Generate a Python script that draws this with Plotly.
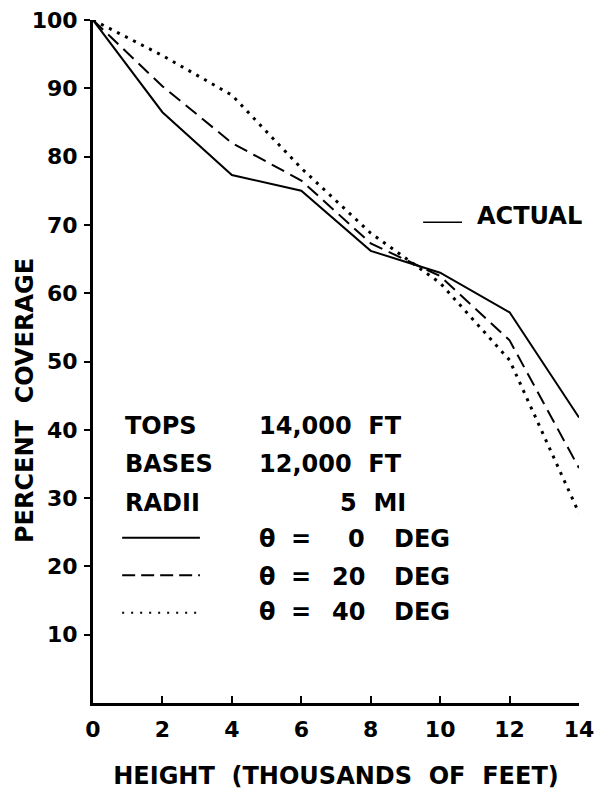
import plotly.graph_objects as go

# Height above ground, thousands of feet
height_kft = [0, 2, 4, 6, 8, 10, 12, 14]

# Percent coverage for three cloud orientations
cov_0deg = [100, 86.5, 77.3, 75.0, 66.2, 63.0, 57.2, 41.8]
cov_20deg = [100, 90.3, 82.0, 76.5, 67.3, 62.5, 53.1, 34.4]
cov_40deg = [100, 94.8, 89.0, 78.3, 68.8, 61.5, 50.2, 27.8]

x_ticks = [0, 2, 4, 6, 8, 10, 12, 14]
y_ticks = [10, 20, 30, 40, 50, 60, 70, 80, 90, 100]

FONT = "DejaVu Sans"
INK = "black"

# Figure and plot-area geometry (pixels)
W, H = 599, 790
ML, MR, MT, MB = 93, 20, 20, 87
PLOT_W, PLOT_H = W - ML - MR, H - MT - MB

fig = go.Figure()

fig.add_trace(go.Scatter(x=height_kft, y=cov_0deg, mode="lines",
                         line=dict(color=INK, width=2), showlegend=False))
fig.add_trace(go.Scatter(x=height_kft, y=cov_20deg, mode="lines",
                         line=dict(color=INK, width=2, dash="14px,7px"), showlegend=False))
fig.add_trace(go.Scatter(x=height_kft, y=cov_40deg, mode="lines",
                         line=dict(color=INK, width=3, dash="3px,6px"), showlegend=False))

ann_font = dict(family=FONT, size=24, color=INK, weight="bold")

def text(x, y, s, anchor="left"):
    fig.add_annotation(x=x, y=y, xref="x", yref="y", text=s, showarrow=False,
                       xanchor=anchor, yanchor="middle", font=ann_font)

# Parameter block
text(0.86, 40.6, "TOPS")
text(4.73, 40.6, "14,000  FT")
text(0.86, 35.0, "BASES")
text(4.73, 35.0, "12,000  FT")
text(0.86, 29.3, "RADII")
text(8.07, 29.3, "5  MI", anchor="center")

# Orientation key: symbol, equals sign, angle, unit
key_rows = [(24.0, "0"), (18.4, "20"), (13.3, "40")]
for yv, ang in key_rows:
    text(4.73, yv, "θ")
    text(5.99, yv, "=", anchor="center")
    text(7.90, yv, ang, anchor="right")
    text(8.62, yv, "DEG")

# Line-style key samples
fig.add_shape(type="line", x0=0.84, x1=3.08, y0=24.2, y1=24.2, xref="x", yref="y",
              line=dict(color=INK, width=2))
fig.add_shape(type="line", x0=0.84, x1=3.08, y0=18.7, y1=18.7, xref="x", yref="y",
              line=dict(color=INK, width=2, dash="13px,6px"))
fig.add_shape(type="line", x0=0.84, x1=3.08, y0=13.2, y1=13.2, xref="x", yref="y",
              line=dict(color=INK, width=2, dash="2px,7px"))

# "ACTUAL" marker on the right
fig.add_shape(type="line", x0=9.51, x1=10.63, y0=70.4, y1=70.4, xref="x", yref="y",
              line=dict(color=INK, width=1.5))
text(11.0, 71.3, "ACTUAL")

# Vertical axis title, centred at pixel (25, 401)
fig.add_annotation(x=(25 - ML) / PLOT_W, y=(H - MB - 401) / PLOT_H,
                   xref="paper", yref="paper", text="PERCENT  COVERAGE",
                   showarrow=False, textangle=-90, xanchor="center", yanchor="middle",
                   font=dict(family=FONT, size=24, color=INK, weight="bold"))

fig.update_xaxes(range=[0, 14], tickvals=x_ticks, ticktext=[str(v) for v in x_ticks],
                 showgrid=False, zeroline=False, showline=True, linecolor=INK, linewidth=2.5,
                 ticks="inside", ticklen=7, tickwidth=2, tickcolor=INK, ticklabelstandoff=5,
                 tickfont=dict(family=FONT, size=22, color=INK, weight="bold"),
                 title=dict(text="HEIGHT  (THOUSANDS  OF  FEET)", standoff=42,
                            font=dict(family=FONT, size=24, color=INK, weight="bold")))
fig.update_yaxes(range=[0, 100], tickvals=y_ticks, ticktext=[str(v) for v in y_ticks],
                 showgrid=False, zeroline=False, showline=True, linecolor=INK, linewidth=3,
                 ticks="outside", ticklen=6, tickwidth=2, tickcolor=INK, ticklabelstandoff=2,
                 tickfont=dict(family=FONT, size=22, color=INK, weight="bold"))

fig.update_layout(width=W, height=H, paper_bgcolor="white", plot_bgcolor="white",
                  margin=dict(l=ML, r=MR, t=MT, b=MB, autoexpand=False), showlegend=False)

fig.write_html("out.html")
